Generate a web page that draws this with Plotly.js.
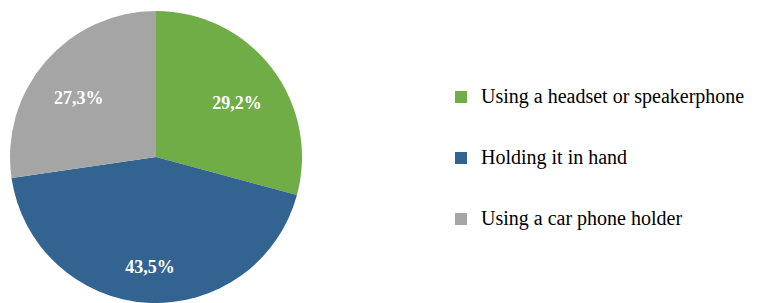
<!DOCTYPE html>
<html>
<head>
<meta charset="utf-8">
<script src="https://cdn.plot.ly/plotly-3.0.1.min.js"></script>
<style>html,body{margin:0;padding:0;background:#fff;}#chart{width:758px;height:303px;}</style>
</head>
<body>
<div id="chart"></div>
<script>
var categories = ["Using a headset or speakerphone", "Holding it in hand", "Using a car phone holder"];
var shares = [29.2, 43.5, 27.3];
var colors = ["#70AD47", "#336391", "#A5A5A5"];

var serif = "Liberation Serif";
var sliceText = shares.map(function (v) { return v.toFixed(1).replace(".", ",") + "%"; });
var pad = "\u00a0";
var legendLabels = categories.map(function (c) {
  return pad + "<br><span style=\"font-size:20px\">" + c + "</span><br>" + pad;
});
var pieDomain = {x: [10 / 758, 302 / 758], y: [0, 292 / 303]};
var labelDomain = {x: [18 / 758, 294 / 758], y: [0, 276 / 303]};

var basePie = {
  type: "pie",
  labels: legendLabels,
  values: shares,
  textinfo: "none",
  textfont: {family: serif},
  sort: false,
  direction: "clockwise",
  rotation: 0,
  marker: {colors: colors, line: {width: 0}},
  domain: pieDomain,
  hoverinfo: "none"
};

var labelPie = {
  type: "pie",
  labels: legendLabels,
  values: shares,
  text: sliceText,
  textinfo: "text",
  textposition: "inside",
  insidetextorientation: "horizontal",
  textfont: {family: serif, size: 18, color: "#ffffff", weight: "bold"},
  insidetextfont: {family: serif, size: 18, color: "#ffffff", weight: "bold"},
  sort: false,
  direction: "clockwise",
  rotation: 0,
  hole: 0.48,
  showlegend: false,
  marker: {colors: ["rgba(0,0,0,0)", "rgba(0,0,0,0)", "rgba(0,0,0,0)"], line: {width: 0}},
  domain: labelDomain,
  hoverinfo: "none"
};

var layout = {
  width: 758,
  height: 303,
  margin: {l: 0, r: 0, t: 0, b: 0},
  paper_bgcolor: "#ffffff",
  font: {family: serif, color: "#000000"},
  showlegend: true,
  legend: {
    x: 441 / 758, xanchor: "left",
    y: (303 - 158) / 303, yanchor: "middle",
    font: {family: serif, size: 14.87, color: "#000000"},
    bgcolor: "rgba(0,0,0,0)",
    borderwidth: 0,
    valign: "middle"
  }
};

Plotly.newPlot("chart", [basePie, labelPie], layout, {staticPlot: true});
</script>
</body>
</html>
